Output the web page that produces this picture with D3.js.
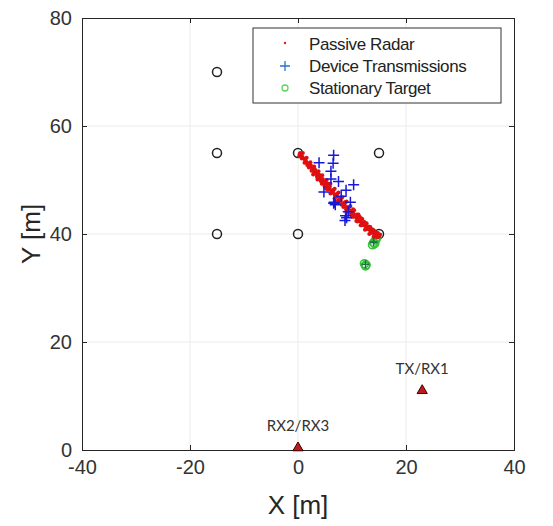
<!DOCTYPE html>
<html>
<head>
<meta charset="utf-8">
<script src="https://cdn.jsdelivr.net/npm/d3@7"></script>
<style>
body { margin: 0; background: #fff; }
svg { font-family: "Liberation Sans", Arial, sans-serif; }
.tick text { fill: #333; font-size: 20px; }
</style>
</head>
<body>
<script>
// grid of reference positions (open black circles)
var gridPts = [[-15, 70], [-15, 55], [0, 55], [15, 55], [-15, 40], [0, 40], [15, 40]];

// passive radar track
var radarPts = [[0.4,55.0],[0.8,54.3],[1.1,54.0],[1.5,53.4],[1.9,53.1],[2.2,52.5],[2.6,52.2],[2.9,51.6],
  [3.3,51.4],[3.6,50.8],[4.0,50.5],[4.3,50.0],[4.7,49.8],[5.0,49.2],[5.4,48.9],[5.8,48.5],[6.1,48.1],
  [6.5,47.8],[6.8,47.2],[7.2,47.0],[7.6,46.5],[7.9,46.2],[8.3,45.7],[8.6,45.5],[9.0,45.0],[9.3,44.6],
  [9.7,44.3],[10.0,43.8],[10.4,43.5],[10.8,43.0],[11.1,42.7],[11.5,42.3],[11.9,42.0],[12.2,41.6],
  [12.6,41.3],[13.0,40.9],[13.4,40.6],[13.8,40.3],[14.2,40.0],[14.6,39.7],[15.0,39.5],
  [0.9,55.0],[1.6,54.1],[2.3,53.3],[3.0,52.5],[3.8,51.6],[4.5,50.9],[5.3,50.0],[6.0,49.3],[6.8,48.4],
  [7.5,47.7],[8.2,46.8],[9.0,46.0],[9.7,45.2],[10.4,44.4],[11.2,43.6],[11.9,42.8],[12.7,42.0],
  [13.4,41.3],[14.1,40.6],[14.8,40.2],[0.2,54.4],[1.2,53.2],[2.0,52.3],[2.8,51.0],[3.6,50.1],
  [4.4,49.3],[5.2,48.4],[6.0,47.5],[6.8,46.6],[7.6,45.8],[8.4,45.0],[9.2,44.2],[10.0,43.2],
  [10.8,42.4],[11.6,41.6],[12.4,40.8],[13.2,40.0],[14.0,39.5],
  [0.6,54.7],[1.3,53.8],[2.1,52.9],[2.7,52.0],[3.4,51.1],[4.1,50.3],[4.8,49.5],[5.6,48.7],[6.3,48.0],
  [7.0,47.3],[7.8,46.5],[8.5,45.6],[9.3,44.9],[10.2,44.0],[11.0,43.1],[11.8,42.3],[12.5,41.5],
  [13.3,40.8],[14.0,40.2],[14.7,39.4],[3.1,52.0],[5.7,49.3],[8.8,45.9],[11.4,43.2],[13.7,40.9],
  [0.7,54.0],[1.4,53.6],[1.7,52.8],[2.4,52.7],[2.5,51.7],[3.2,51.8],[3.5,50.6],[3.9,51.0],[4.2,49.8],
  [4.6,50.2],[4.9,48.9],[5.2,49.5],[5.5,48.3],[5.9,48.8],[6.2,47.6],[6.6,48.2],[6.9,46.9],[7.3,47.5],
  [7.4,46.2],[8.0,46.6],[8.1,45.4],[8.7,45.9],[8.9,44.6],[9.5,45.0],[9.6,43.9],[10.2,44.6],[10.3,43.2],
  [10.9,43.6],[11.0,42.3],[11.7,42.9],[11.8,41.6],[12.3,42.2],[12.6,40.9],[13.1,41.4],[13.5,40.2],
  [13.9,40.8],[14.4,39.5],[14.5,40.3],[15.2,39.9],[0.3,54.8]];

// device transmissions (blue plus)
var devicePts = [[3.9,53.2],[6.6,54.6],[6.5,53.1],[6.1,51.6],[7.5,49.7],[10.3,49.1],[4.8,47.8],
  [8.9,48.1],[6.6,45.7],[6.9,45.4],[6.7,45.9],[9.7,45.9],[9.3,44.1],[9.0,43.0],[8.7,42.5],[8.8,43.4],
  [6.1,50.2],[8.0,47.0]];

// stationary target (green circles)
var targetPts = [[14.0, 38.4], [14.4, 38.9], [13.8, 38.0], [14.6, 39.4], [14.2, 38.2], [12.6, 34.3], [12.3, 34.5], [12.5, 34.1]];
var targetPlus = [[14.0, 38.5], [12.5, 34.4]];

// transmitters/receivers
var stations = [{name: "TX/RX1", x: 23, y: 11}, {name: "RX2/RX3", x: 0, y: 0.4}];

var xTicks = [-40, -20, 0, 20, 40];
var yTicks = [0, 20, 40, 60, 80];

var margin = {top: 18, left: 82},
    width = 432, height = 432;

var svg = d3.select("body").append("svg")
    .attr("width", 553).attr("height", 526);

var g = svg.append("g")
    .attr("transform", "translate(" + margin.left + "," + margin.top + ")");

var x = d3.scaleLinear().domain([-40, 40]).range([0, width]);
var y = d3.scaleLinear().domain([0, 80]).range([height, 0]);

// grid lines
g.selectAll(".gx").data(xTicks.slice(1, -1)).enter().append("line")
    .attr("x1", d => x(d)).attr("x2", d => x(d))
    .attr("y1", 0).attr("y2", height)
    .attr("stroke", "#ebebeb").attr("stroke-width", 1);
g.selectAll(".gy").data(yTicks.slice(1, -1)).enter().append("line")
    .attr("y1", d => y(d)).attr("y2", d => y(d))
    .attr("x1", 0).attr("x2", width)
    .attr("stroke", "#ebebeb").attr("stroke-width", 1);

// axes, ticks inward
var fmt = d => String(d);
g.append("g").attr("transform", "translate(0," + height + ")")
    .call(d3.axisBottom(x).tickValues(xTicks).tickSize(-5).tickPadding(10).tickFormat(fmt));
g.append("g")
    .call(d3.axisLeft(y).tickValues(yTicks).tickSize(-5).tickPadding(10).tickFormat(fmt));
g.append("g").call(d3.axisTop(x).tickValues(xTicks).tickSize(-5).tickFormat(""));
g.append("g").attr("transform", "translate(" + width + ",0)")
    .call(d3.axisRight(y).tickValues(yTicks).tickSize(-5).tickFormat(""));
g.selectAll(".domain").attr("stroke", "#262626");
g.selectAll(".tick line").attr("stroke", "#262626");

// open circles
g.selectAll(".grid-pt").data(gridPts).enter().append("circle")
    .attr("cx", d => x(d[0])).attr("cy", d => y(d[1])).attr("r", 4.5)
    .attr("fill", "none").attr("stroke", "#222").attr("stroke-width", 1.5);

// stationary target
g.selectAll(".tgt").data(targetPts).enter().append("circle")
    .attr("cx", d => x(d[0])).attr("cy", d => y(d[1])).attr("r", 4)
    .attr("fill", "none").attr("stroke", "#36c236").attr("stroke-width", 1.6);

// passive radar
g.selectAll(".radar").data(radarPts).enter().append("circle")
    .attr("cx", d => x(d[0])).attr("cy", d => y(d[1])).attr("r", 2)
    .attr("fill", "#e01010");

// plus marker helper
function plus(sel, data, color, size, w) {
  return sel.selectAll(null).data(data).enter().append("path")
      .attr("d", d => {
        var cx = x(d[0]), cy = y(d[1]);
        return "M" + (cx - size) + "," + cy + "H" + (cx + size) + "M" + cx + "," + (cy - size) + "V" + (cy + size);
      })
      .attr("stroke", color).attr("stroke-width", w).attr("fill", "none");
}
plus(g, devicePts, "#1818d8", 5.5, 1.5);
plus(g, targetPlus, "#1f6f4f", 4, 1.6);

// stations
g.selectAll(".st").data(stations).enter().append("path")
    .attr("transform", d => "translate(" + x(d.x) + "," + y(d.y) + ")")
    .attr("d", d3.symbol(d3.symbolTriangle, 45))
    .attr("fill", "#c01a1a").attr("stroke", "#3a0000").attr("stroke-width", 1);
g.selectAll(".stl").data(stations).enter().append("text")
    .attr("x", d => x(d.x)).attr("y", d => y(d.y) - 17)
    .attr("text-anchor", "middle")
    .style("font-family", "Lato, sans-serif").style("font-size", "15px").attr("fill", "#333")
    .text(d => d.name);

// legend
var legend = g.append("g").attr("transform", "translate(" + (253 - margin.left) + "," + (28 - margin.top) + ")");
legend.append("rect").attr("width", 248).attr("height", 75)
    .attr("fill", "#fff").attr("stroke", "#333").attr("stroke-width", 1);
var legItems = ["Passive Radar", "Device Transmissions", "Stationary Target"];
legend.selectAll("text").data(legItems).enter().append("text")
    .attr("x", 56).attr("y", (d, i) => 16 + i * 22).attr("dy", "0.35em")
    .style("font-size", "17px").style("letter-spacing", "-0.4px").attr("fill", "#222")
    .text(d => d);
legend.append("circle").attr("cx", 32).attr("cy", 15).attr("r", 1.2).attr("fill", "#e31a1a");
legend.append("path").attr("d", "M27,38H37M32,33V43").attr("stroke", "#2a6fd0").attr("stroke-width", 1.3);
legend.append("circle").attr("cx", 32).attr("cy", 60).attr("r", 3).attr("fill", "none")
    .attr("stroke", "#5cd65c").attr("stroke-width", 1.3);

// axis labels
svg.append("text").attr("x", margin.left + width / 2).attr("y", 514)
    .attr("text-anchor", "middle").style("font-size", "26px").attr("fill", "#262626")
    .text("X [m]");
svg.append("text").attr("transform", "translate(40," + (margin.top + height / 2) + ") rotate(-90)")
    .attr("text-anchor", "middle").style("font-size", "26px").attr("fill", "#262626")
    .text("Y [m]");
</script>
</body>
</html>
